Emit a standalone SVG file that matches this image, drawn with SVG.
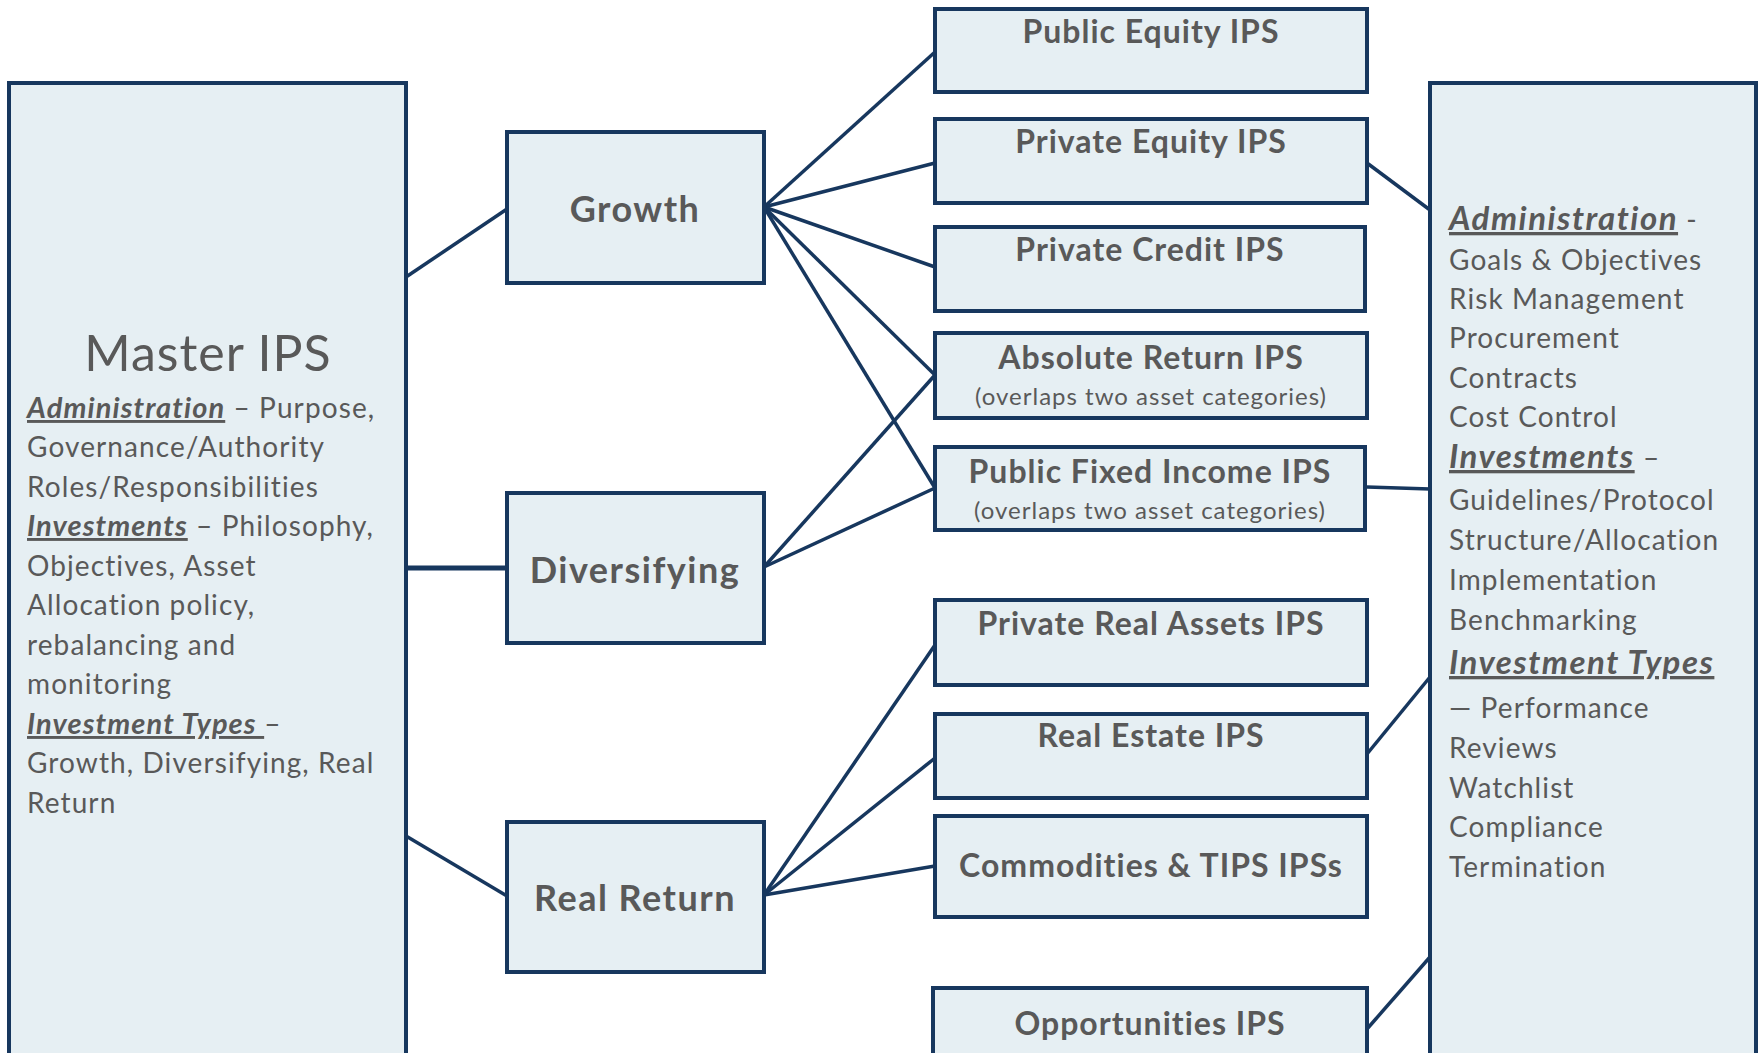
<svg xmlns="http://www.w3.org/2000/svg" width="1760" height="1053" viewBox="0 0 1760 1053">
<style>
.box{fill:#e6eff3;stroke:#17375e;stroke-width:4}
.conn{stroke:#17375e;stroke-width:3.5;fill:none}
text{font-family:Lato,"Open Sans",sans-serif;fill:#595959}
.mid{font-size:36px;font-weight:bold;text-anchor:middle;letter-spacing:1.5px}
.ips{font-size:32px;font-weight:bold;text-anchor:middle;letter-spacing:1px}
.sub{font-size:24px;text-anchor:middle;letter-spacing:1px}
.body{font-size:28px;letter-spacing:1.1px}
.head{font-weight:bold;font-style:italic;text-decoration:underline}
.mhead{font-size:29px}
.rhead{font-size:33px;letter-spacing:1.5px}
</style>
<rect width="1760" height="1053" fill="#ffffff"/>
<g id="connectors">
<line class="conn" x1="406" y1="277" x2="507" y2="209"/>
<line class="conn" x1="406" y1="568" x2="507" y2="568" style="stroke-width:5"/>
<line class="conn" x1="406" y1="836" x2="507" y2="896"/>
<line class="conn" x1="764" y1="207" x2="935" y2="52"/>
<line class="conn" x1="764" y1="207" x2="935" y2="163"/>
<line class="conn" x1="764" y1="207" x2="935" y2="267"/>
<line class="conn" x1="764" y1="207" x2="935" y2="375"/>
<line class="conn" x1="764" y1="207" x2="935" y2="488"/>
<line class="conn" x1="764" y1="567" x2="935" y2="375"/>
<line class="conn" x1="764" y1="567" x2="935" y2="488"/>
<line class="conn" x1="764" y1="895" x2="935" y2="645"/>
<line class="conn" x1="764" y1="895" x2="935" y2="758"/>
<line class="conn" x1="764" y1="895" x2="935" y2="866"/>
<line class="conn" x1="1367" y1="163" x2="1430" y2="210"/>
<line class="conn" x1="1367" y1="487" x2="1430" y2="489"/>
<line class="conn" x1="1367" y1="754" x2="1430" y2="677"/>
<line class="conn" x1="1367" y1="1029" x2="1430" y2="957"/>
</g>
<g id="master">
<rect class="box" x="9" y="83" width="397" height="990"/>
<text x="208" y="371" style="font-size:50px;text-anchor:middle;letter-spacing:1px">Master IPS</text>
<text class="body" x="27" y="418"><tspan class="head mhead">Administration</tspan> – Purpose,</text>
<text class="body" x="27" y="457">Governance/Authority</text>
<text class="body" x="27" y="497">Roles/Responsibilities</text>
<text class="body" x="27" y="536"><tspan class="head mhead">Investments</tspan> – Philosophy,</text>
<text class="body" x="27" y="576">Objectives, Asset</text>
<text class="body" x="27" y="615">Allocation policy,</text>
<text class="body" x="27" y="655">rebalancing and</text>
<text class="body" x="27" y="694">monitoring</text>
<text class="body" x="27" y="734"><tspan class="head mhead">Investment Types </tspan>–</text>
<text class="body" x="27" y="773">Growth, Diversifying, Real</text>
<text class="body" x="27" y="813">Return</text>
</g>
<g id="growth">
<rect class="box" x="507" y="132" width="257" height="151"/>
<text class="mid" x="635" y="222">Growth</text>
</g>
<g id="diversifying">
<rect class="box" x="507" y="493" width="257" height="150"/>
<text class="mid" x="635" y="583">Diversifying</text>
</g>
<g id="realreturn">
<rect class="box" x="507" y="822" width="257" height="150"/>
<text class="mid" x="635" y="911">Real Return</text>
</g>
<g id="publicequity">
<rect class="box" x="935" y="9" width="432" height="83"/>
<text class="ips" x="1151" y="43">Public Equity IPS</text>
</g>
<g id="privateequity">
<rect class="box" x="935" y="119" width="432" height="84"/>
<text class="ips" x="1151" y="153">Private Equity IPS</text>
</g>
<g id="privatecredit">
<rect class="box" x="935" y="227" width="430" height="84"/>
<text class="ips" x="1150" y="261">Private Credit IPS</text>
</g>
<g id="absolutereturn">
<rect class="box" x="935" y="333" width="432" height="85"/>
<text class="ips" x="1151" y="369">Absolute Return IPS</text>
<text class="sub" x="1151" y="405">(overlaps two asset categories)</text>
</g>
<g id="publicfixedincome">
<rect class="box" x="935" y="447" width="430" height="83"/>
<text class="ips" x="1150" y="483">Public Fixed Income IPS</text>
<text class="sub" x="1150" y="519">(overlaps two asset categories)</text>
</g>
<g id="privaterealassets">
<rect class="box" x="935" y="600" width="432" height="85"/>
<text class="ips" x="1151" y="635">Private Real Assets IPS</text>
</g>
<g id="realestate">
<rect class="box" x="935" y="714" width="432" height="84"/>
<text class="ips" x="1151" y="747">Real Estate IPS</text>
</g>
<g id="commodities">
<rect class="box" x="935" y="816" width="432" height="101"/>
<text class="ips" x="1151" y="877">Commodities &amp; TIPS IPSs</text>
</g>
<g id="opportunities">
<rect class="box" x="933" y="988" width="434" height="85"/>
<text class="ips" x="1150" y="1035">Opportunities IPS</text>
</g>
<g id="detail">
<rect class="box" x="1430" y="83" width="326" height="990"/>
<text class="body" x="1449" y="230"><tspan class="head rhead">Administration</tspan> -</text>
<text class="body" x="1449" y="270">Goals &amp; Objectives</text>
<text class="body" x="1449" y="309">Risk Management</text>
<text class="body" x="1449" y="348">Procurement</text>
<text class="body" x="1449" y="388">Contracts</text>
<text class="body" x="1449" y="427">Cost Control</text>
<text class="body" x="1449" y="468"><tspan class="head rhead">Investments</tspan> –</text>
<text class="body" x="1449" y="510">Guidelines/Protocol</text>
<text class="body" x="1449" y="550">Structure/Allocation</text>
<text class="body" x="1449" y="590">Implementation</text>
<text class="body" x="1449" y="630">Benchmarking</text>
<text class="body" x="1449" y="674"><tspan class="head rhead">Investment Types</tspan></text>
<text class="body" x="1449" y="718">— Performance</text>
<text class="body" x="1449" y="758">Reviews</text>
<text class="body" x="1449" y="798">Watchlist</text>
<text class="body" x="1449" y="837">Compliance</text>
<text class="body" x="1449" y="877">Termination</text>
</g>
</svg>
